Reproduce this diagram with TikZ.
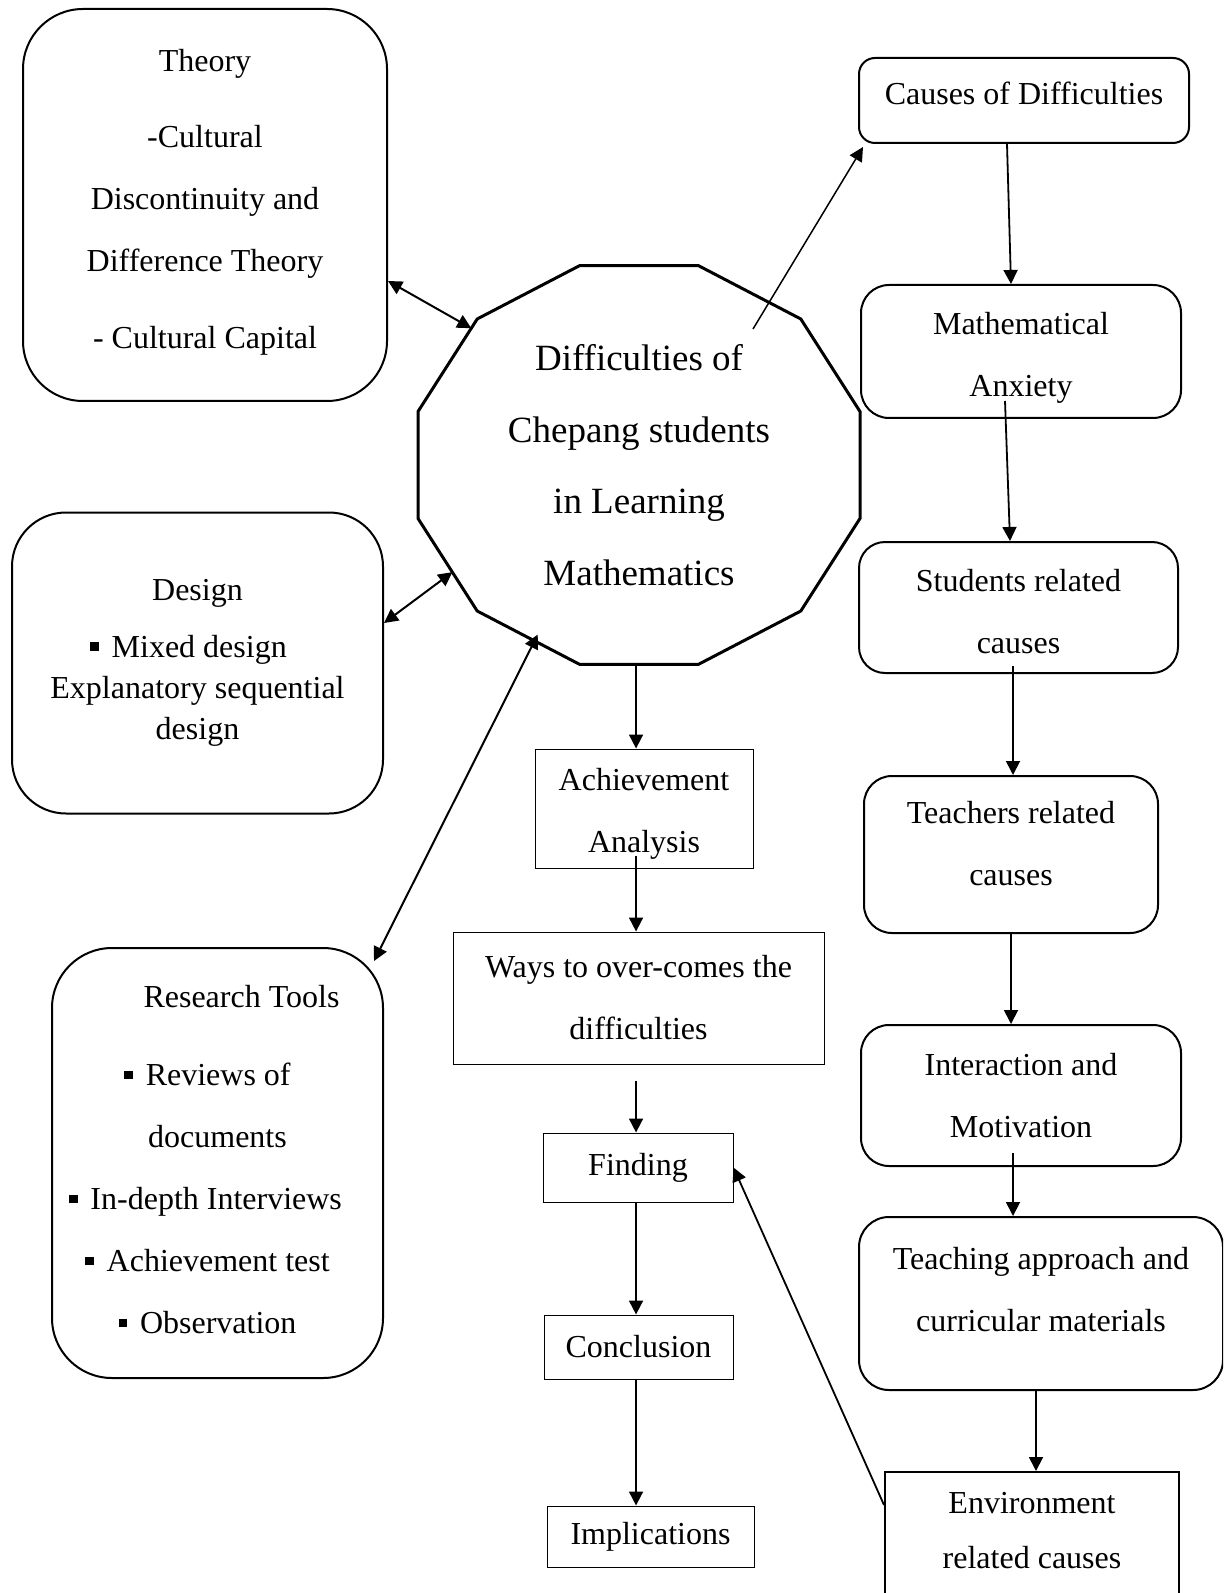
\documentclass[tikz,border=0pt]{standalone}
\usepackage{fontspec}
\setmainfont{Liberation Serif}
\usetikzlibrary{arrows.meta,calc}

\newcommand\boxfont{\fontsize{16}{31}\selectfont}
\newcommand\sqbul{\rule[0.2em]{0.27em}{0.27em}\hspace{0.4em}}
\newcommand\padr[1]{\hspace*{#1}\mbox{}}

\begin{document}
\begin{tikzpicture}[x=0.5pt,y=-0.5pt,
  roundbox/.style={draw,line width=1pt,rounded corners=#1,align=center,
    inner sep=0pt,font=\boxfont},
  plainbox/.style={draw,line width=0.5pt,align=center,inner sep=0pt,
    font=\boxfont},
  link/.style={-{Triangle[length=7pt,width=7pt]},line width=0.9pt},
  duallink/.style={{Triangle[length=7pt,width=7pt]}-{Triangle[length=7pt,width=7pt]},
    line width=1pt}]

  \clip (0,0) rectangle (1223,1593);

  %% centre: twelve sided figure
  \node[font=\fontsize{18.5}{35.75}\selectfont,align=center] (core) at (639,465)
  {Difficulties of\\Chepang students\\in Learning\\Mathematics};
  \foreach \k in {0,...,11}
    \coordinate (v\k) at ({639+228.8*cos(15+30*\k)},{465-206.5*sin(15+30*\k)});
  \draw[line width=1.5pt] (v0) \foreach \k in {1,...,11}{-- (v\k)} -- cycle;
  \coordinate (corebot) at ($(v8)!0.475!(v9)$);
  \coordinate (corecause) at (753,329);

  %% left column
  \node[roundbox=30pt,minimum width=182pt,minimum height=196pt,text depth=6.5pt] (theory)
  at (205,205) {Theory\\[7pt]-Cultural\\Discontinuity and\\Difference Theory\\[7.5pt]- Cultural Capital};
  \node[roundbox=27pt,minimum width=185.5pt,minimum height=150.5pt,
  font=\fontsize{16}{20.3}\selectfont] (design) at (197.5,663)
  {Design\\[8pt]\sqbul Mixed design\padr{9pt}\\[0.5pt]Explanatory sequential\\design};
  \node[roundbox=30pt,minimum width=165.5pt,minimum height=215pt,text depth=3.5pt] (tools)
  at (217.5,1163) {\hspace*{24pt}Research Tools\\[8pt]\sqbul Reviews of\padr{10pt}\\documents\\
    \sqbul In-depth Interviews\padr{12pt}\\\sqbul Achievement test\padr{10pt}\\
    \sqbul Observation\padr{10pt}};

  %% middle column
  \node[plainbox,minimum width=109pt,minimum height=59.5pt,text height=47.9pt] (ach)
  at (644,808.5) {Achievement\\Analysis};
  \node[plainbox,minimum width=185.5pt,minimum height=66pt] (ways) at (638.5,998)
  {Ways to over-comes the\\difficulties};
  \node[plainbox,minimum width=95pt,minimum height=34.5pt] (finding) at (638,1167.5)
  {Finding};
  \node[plainbox,minimum width=94.5pt,minimum height=32pt] (concl) at (638.5,1347)
  {Conclusion};
  \node[plainbox,minimum width=103.5pt,minimum height=30.5pt] (impl) at (650.5,1536.5)
  {Implications};

  %% right column
  \node[roundbox=8pt,minimum width=165pt,minimum height=42.5pt,text depth=7pt] (causes)
  at (1024,100.5) {Causes of Difficulties};
  \node[roundbox=14pt,minimum width=160pt,minimum height=66.5pt,text height=48.4pt] (anx)
  at (1021,351.5) {Mathematical\\Anxiety};
  \node[roundbox=13pt,minimum width=159.5pt,minimum height=65.5pt,text height=45.9pt] (stud)
  at (1018.5,607.5) {Students related\\causes};
  \node[roundbox=14pt,minimum width=147pt,minimum height=78.5pt,text depth=11pt] (teach)
  at (1011,854.5) {Teachers related\\causes};
  \node[roundbox=14pt,minimum width=160pt,minimum height=70.5pt] (inter)
  at (1021,1095.5) {Interaction and\\Motivation};
  \node[roundbox=15pt,minimum width=182pt,minimum height=86.5pt,text depth=14pt] (appr)
  at (1041,1303.5) {Teaching approach and\\curricular materials};
  \node[draw,line width=1pt,align=center,inner sep=0pt,anchor=north,text depth=20pt,
  font=\fontsize{16}{27.5}\selectfont,minimum width=147pt,minimum height=78pt] (env)
  at (1032,1471) {Environment\\related causes};

  %% connectors
  \draw[duallink] ([yshift=-38pt]theory.east) -- ($(v4)!0.1!(v5)$); %% theory <-> core
  \draw[duallink] ([yshift=20pt]design.east) -- ($(v6)!0.58!(v7)$); %% design <-> core
  \draw[duallink] ([xshift=-5pt,yshift=-7pt]tools.north east)
  -- ([yshift=4pt]$(v7)!0.59!(v8)$); %% tools <-> core
  \draw[link,line width=0.75pt] (corecause)
  -- ([xshift=2.5pt,yshift=-1.5pt]causes.south west); %% core -> causes

  \draw[link] (corebot) -- (corebot |- ach.north);
  \draw[link] ([yshift=6.5pt]corebot |- ach.south) -- (corebot |- ways.north);
  \draw[link] ([yshift=-8pt]corebot |- ways.south) -- (corebot |- finding.north);
  \draw[link] (corebot |- finding.south) -- (corebot |- concl.north);
  \draw[link] (corebot |- concl.south) -- (corebot |- impl.north);

  \draw[link] ([xshift=-8.5pt]causes.south) -- ([xshift=-5pt]anx.north);
  \draw[link] ([xshift=-8pt,yshift=9pt]anx.south) -- ([xshift=-4.25pt]stud.north);
  \draw[link] ([xshift=-2.75pt,yshift=4pt]stud.south) -- ([xshift=1pt]teach.north);
  \draw[link] (teach.south) -- (teach.south |- inter.north);
  \draw[link] ([xshift=-4pt,yshift=7pt]inter.south) -- ([xshift=-4pt]inter.south |- appr.north);
  \draw[link] ([xshift=-2.5pt]appr.south) -- ([xshift=2pt]env.north);
  \draw[link] ([yshift=-17pt]env.north west) -- (finding.east); %% env -> finding

\end{tikzpicture}
\end{document}
